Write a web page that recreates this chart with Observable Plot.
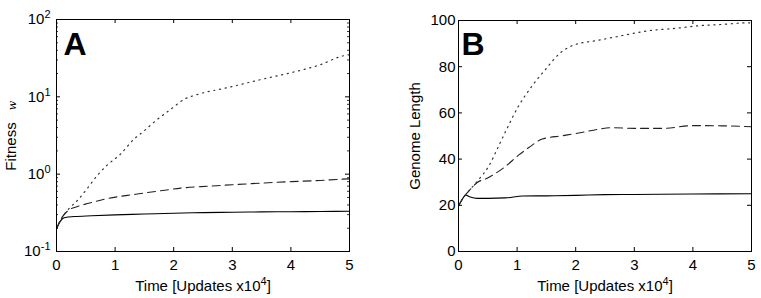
<!DOCTYPE html>
<html>
<head>
<meta charset="utf-8">
<script src="https://cdn.jsdelivr.net/npm/d3@7"></script>
<script src="https://cdn.jsdelivr.net/npm/@observablehq/plot@0.6"></script>
<style>
  html, body { margin: 0; padding: 0; background: #fff; }
  #wrap { display: flex; width: 761px; height: 298px; }
</style>
</head>
<body>
<div id="wrap"></div>
<script>
// ---------- data ----------
const xTicks = [0, 1, 2, 3, 4, 5];
const decades = [0.1, 1, 10, 100];
const lenTicks = [0, 20, 40, 60, 80, 100];

// Panel A: fitness (log scale)
const fitSolidT = [0, 0.05, 0.1, 0.15, 0.3, 0.6, 1, 1.5, 2, 2.5, 3, 3.5, 4, 4.5, 5];
const fitSolidV = [0.195, 0.235, 0.265, 0.275, 0.283, 0.29, 0.298, 0.305, 0.313, 0.318, 0.322, 0.325, 0.327, 0.329, 0.331];
const fitDashT = [0, 0.05, 0.1, 0.2, 0.35, 0.55, 0.85, 1.35, 1.85, 2.12, 2.6, 3, 3.54, 4, 4.5, 4.85, 5];
const fitDashV = [0.195, 0.24, 0.28, 0.34, 0.38, 0.42, 0.48, 0.55, 0.62, 0.66, 0.70, 0.73, 0.77, 0.80, 0.83, 0.86, 0.87];
const fitDotT = [0, 0.05, 0.1, 0.2, 0.36, 0.53, 0.7, 0.86, 1.09, 1.32, 1.49, 1.72, 1.95, 2.18, 2.4, 2.91, 3.5, 4, 4.5, 4.9, 5];
const fitDotV = [0.195, 0.24, 0.28, 0.35, 0.46, 0.66, 0.97, 1.3, 1.81, 2.83, 3.6, 5.1, 6.9, 9.3, 10.7, 13.1, 16.8, 20.5, 26, 34, 35];

// Panel B: genome length
const lenSolidT = [0, 0.05, 0.125, 0.2, 0.32, 0.5, 0.8, 1.1, 1.5, 2, 2.5, 3, 4, 5];
const lenSolidV = [19.8, 22, 24.4, 23.6, 23, 23, 23.2, 24, 24.1, 24.3, 24.6, 24.7, 24.9, 25];
const lenDashT = [0, 0.1, 0.18, 0.32, 0.47, 0.61, 0.78, 1.03, 1.2, 1.43, 1.77, 2.1, 2.4, 2.6, 3, 3.5, 4, 4.5, 5];
const lenDashV = [19.8, 24, 26.3, 29.9, 31.5, 33.5, 36.4, 41.8, 45, 48.7, 50.1, 51.5, 53, 53.6, 53.3, 53.3, 54.5, 54.4, 54];
const lenDotT = [0, 0.1, 0.18, 0.35, 0.52, 0.66, 0.81, 1.03, 1.26, 1.49, 1.72, 1.95, 2.4, 2.8, 3.28, 3.7, 4.13, 4.5, 4.93, 5];
const lenDotV = [19.8, 24, 26.3, 31.3, 37.1, 44.3, 52.3, 63.2, 71.8, 79, 85.6, 89.2, 91.5, 93.5, 95.7, 96.6, 97.8, 98.3, 99, 99];

const zip = (T, V) => T.map((t, i) => ({t, v: V[i]}));
const minorLog = [];
for (const d of [0.1, 1, 10]) for (let k = 2; k <= 9; k++) minorLog.push(+(d * k).toPrecision(3));

const FONT = "'Liberation Sans', Arial, Helvetica, sans-serif";
const FS = 15;
const style = {fontFamily: FONT, fontSize: FS + "px", background: "#fff", color: "#000", overflow: "visible"};

function supify(svg) {
  svg.querySelectorAll("text").forEach(t => {
    const s = t.textContent;
    const m = s.match(/^(.*?)\^(-?\d+)(.*)$/);
    if (!m) return;
    t.textContent = "";
    const ns = "http://www.w3.org/2000/svg";
    const a = document.createElementNS(ns, "tspan"); a.textContent = m[1]; t.appendChild(a);
    const b = document.createElementNS(ns, "tspan"); b.textContent = m[2];
    b.setAttribute("dy", "-6"); b.setAttribute("font-size", "11"); t.appendChild(b);
    if (m[3]) { const c = document.createElementNS(ns, "tspan"); c.textContent = m[3]; c.setAttribute("dy", "6"); t.appendChild(c); }
  });
}

function lines(S, D, P) {
  return [
    Plot.line(S, {x: "t", y: "v", stroke: "#000", strokeWidth: 1.1, curve: "monotone-x"}),
    Plot.line(D, {x: "t", y: "v", stroke: "#222", strokeWidth: 1.1, strokeDasharray: "8,5", curve: "monotone-x"}),
    Plot.line(P, {x: "t", y: "v", stroke: "#333", strokeWidth: 1.2, strokeDasharray: "1.2,4.6", curve: "monotone-x"})
  ];
}

// ---------- Panel A ----------
{
  const W = 380, H = 298, mL = 56, mR = 31, mT = 19, mB = 47;
  const fw = W - mL - mR, fh = H - mT - mB;
  const p = Plot.plot({
    width: W, height: H, marginLeft: mL, marginRight: mR, marginTop: mT, marginBottom: mB,
    style,
    x: {domain: [0, 5]},
    y: {type: "log", domain: [0.1, 100]},
    marks: [
      ...lines(zip(fitSolidT, fitSolidV), zip(fitDashT, fitDashV), zip(fitDotT, fitDotV)),
      Plot.frame({stroke: "#000"}),
      Plot.tickX(xTicks, {x: d => d, insetTop: fh - 4, stroke: "#000"}),
      Plot.tickX(xTicks, {x: d => d, insetBottom: fh - 4, stroke: "#000"}),
      Plot.tickY(decades, {y: d => d, insetRight: fw - 4, stroke: "#000"}),
      Plot.tickY(decades, {y: d => d, insetLeft: fw - 4, stroke: "#000"}),
      Plot.tickY(minorLog, {y: d => d, insetRight: fw - 2, stroke: "#000", strokeWidth: 0.8}),
      Plot.tickY(minorLog, {y: d => d, insetLeft: fw - 2, stroke: "#000", strokeWidth: 0.8}),
      Plot.axisX({ticks: xTicks, tickSize: 0, tickPadding: 8, label: null, tickFormat: d => String(d)}),
      Plot.axisY({ticks: decades, tickSize: 0, tickPadding: 6, label: null, tickFormat: d => "10^" + Math.round(Math.log10(d))}),
      Plot.text(["Fitness"], {frameAnchor: "left", rotate: -90, dx: -45, dy: 11, textAnchor: "middle", lineAnchor: "middle", fontSize: FS}),
      Plot.text(["w"], {frameAnchor: "left", rotate: -90, dx: -44, dy: -30, textAnchor: "middle", lineAnchor: "middle", fontSize: 11, fontFamily: "'DejaVu Serif', 'Liberation Serif', serif", fontStyle: "italic"}),
      Plot.text(["Time [Updates x10^4]"], {frameAnchor: "bottom", dy: 35, textAnchor: "middle", lineAnchor: "middle", fontSize: FS}),
      Plot.text(["A"], {frameAnchor: "top-left", dx: 7, dy: 13, textAnchor: "start", lineAnchor: "top", fontSize: 32, fontWeight: "bold"})
    ]
  });
  supify(p);
  document.getElementById("wrap").appendChild(p);
}

// ---------- Panel B ----------
{
  const W = 381, H = 298, mL = 78, mR = 10, mT = 20, mB = 47;
  const fw = W - mL - mR, fh = H - mT - mB;
  const p = Plot.plot({
    width: W, height: H, marginLeft: mL, marginRight: mR, marginTop: mT, marginBottom: mB,
    style,
    x: {domain: [0, 5]},
    y: {domain: [0, 100]},
    marks: [
      ...lines(zip(lenSolidT, lenSolidV), zip(lenDashT, lenDashV), zip(lenDotT, lenDotV)),
      Plot.frame({stroke: "#000"}),
      Plot.tickX(xTicks, {x: d => d, insetTop: fh - 4, stroke: "#000"}),
      Plot.tickX(xTicks, {x: d => d, insetBottom: fh - 4, stroke: "#000"}),
      Plot.tickY(lenTicks, {y: d => d, insetRight: fw - 4, stroke: "#000"}),
      Plot.tickY(lenTicks, {y: d => d, insetLeft: fw - 4, stroke: "#000"}),
      Plot.axisX({ticks: xTicks, tickSize: 0, tickPadding: 8, label: null, tickFormat: d => String(d)}),
      Plot.axisY({ticks: lenTicks, tickSize: 0, tickPadding: 3, label: null, tickFormat: d => String(d)}),
      Plot.text(["Genome Length"], {frameAnchor: "left", rotate: -90, dx: -43, dy: 0, textAnchor: "middle", lineAnchor: "middle", fontSize: FS}),
      Plot.text(["Time [Updates x10^4]"], {frameAnchor: "bottom", dy: 35, textAnchor: "middle", lineAnchor: "middle", fontSize: FS}),
      Plot.text(["B"], {frameAnchor: "top-left", dx: 3, dy: 12, textAnchor: "start", lineAnchor: "top", fontSize: 32, fontWeight: "bold"})
    ]
  });
  supify(p);
  document.getElementById("wrap").appendChild(p);
}
</script>
</body>
</html>
